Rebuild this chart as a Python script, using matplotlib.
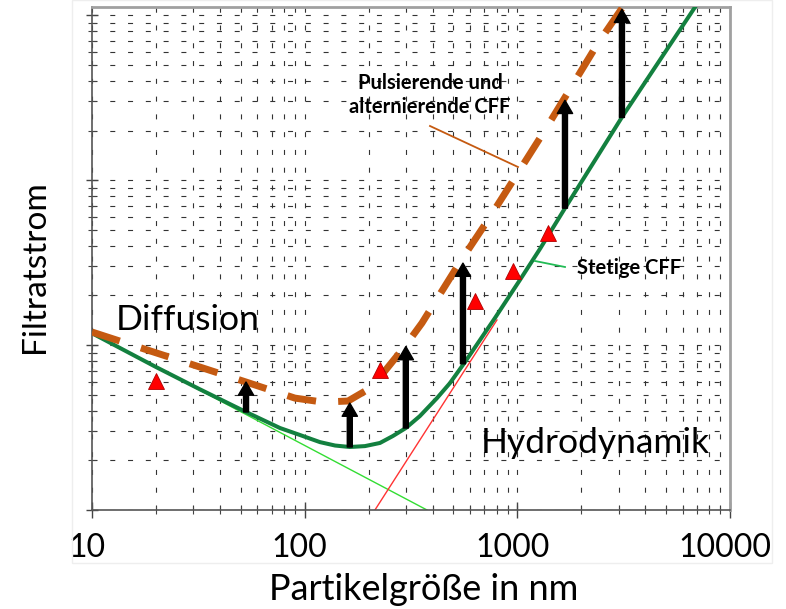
import matplotlib
matplotlib.use('Agg')
import matplotlib.pyplot as plt
import matplotlib.transforms as mtransforms
from matplotlib.ticker import FixedLocator, LogLocator, NullFormatter
from matplotlib.patches import Rectangle

plt.rcParams['font.family'] = ['Lato', 'DejaVu Sans']

# Stetige CFF (durchgezogene Kurve)
steady_x = [10, 20, 32, 53, 76.6, 95, 118, 139, 163, 192, 226, 260, 299, 348, 419, 482,
            567, 785, 1028, 1276, 1675, 3104, 6838]
steady_y = [11.8, 7.36, 5.41, 3.93, 3.14, 2.85, 2.58, 2.46, 2.41, 2.44, 2.55, 2.81, 3.14,
            3.71, 4.77, 5.88, 7.88, 14.6, 24.8, 38.2, 67.6, 241, 1117]

# Pulsierende und alternierende CFF (gestrichelt)
pulse_x = [10, 53, 90, 122, 160, 207, 299, 356, 537, 743, 1349, 2393, 3104]
pulse_y = [12.0, 5.97, 4.77, 4.51, 4.58, 5.56, 10.0, 13.6, 31.8, 59.7, 201, 676, 1102]

# Asymptoten
diff_x = [10, 376]
diff_y = [11.8, 1.0]
hydro_x = [214, 802]
hydro_y = [1.0, 14.2]

# Pfeile: x, von (stetig), bis (pulsierend)
arrow_x = [53, 163, 299, 555, 1675, 3104]
arrow_from = [3.93, 2.41, 3.14, 7.7, 67.6, 240]
arrow_to = [5.97, 4.45, 9.8, 31.4, 305, 1087]

# Messpunkte (Dreiecke)
tri_x = [20, 226, 632, 953, 1393]
tri_y = [6.05, 7.05, 18.5, 28.1, 47.7]

xticks = [10, 100, 1000, 10000]
xlabels = ['10', '100', '1000', '10000']

W, H = 786, 609
fig = plt.figure(figsize=(W / 100, H / 100), dpi=100)


def fx(px):
    return px / W


def fy(py):
    return 1 - py / H


# faint chart-area border
fig.patches.append(Rectangle((fx(72), fy(563)), fx(772) - fx(72), fy(0) - fy(563),
                             transform=fig.transFigure, fill=False,
                             edgecolor='#eeeeee', linewidth=1))

ax = fig.add_axes([fx(92), fy(510), fx(730) - fx(92), fy(7) - fy(510)])
ax.set_xscale('log')
ax.set_yscale('log')
ax.set_xlim(10, 10000)
ax.set_ylim(1, 10 ** 3.05)

ax.xaxis.set_major_locator(FixedLocator(xticks))
ax.set_xticklabels(xlabels, fontsize=23)
ax.xaxis.set_minor_locator(LogLocator(base=10, subs=range(2, 10)))
ax.xaxis.set_minor_formatter(NullFormatter())
ax.yaxis.set_major_locator(LogLocator(base=10))
ax.yaxis.set_minor_locator(LogLocator(base=10, subs=range(2, 10)))
ax.yaxis.set_major_formatter(NullFormatter())
ax.yaxis.set_minor_formatter(NullFormatter())

ax.tick_params(which='major', direction='inout', length=11, width=1, color='#444444', pad=11)
ax.tick_params(which='minor', direction='inout', length=6, width=0.8, color='#444444')
ax.tick_params(axis='y', which='major', length=9)

# labels sit a little left of their ticks in the original
shift = mtransforms.ScaledTranslation(-0.05, 0, fig.dpi_scale_trans)
for lab in ax.get_xticklabels():
    lab.set_transform(lab.get_transform() + shift)

for s in ['left', 'bottom']:
    ax.spines[s].set_color('#555555')
    ax.spines[s].set_linewidth(1.2)
for s in ['top', 'right']:
    ax.spines[s].set_color('#a0a0a0')
    ax.spines[s].set_linewidth(2)

ax.set_axisbelow(True)
ax.grid(True, which='both', color='#333333', linewidth=0.8, linestyle=(0, (4.5, 11.5)))

ax.plot(diff_x, diff_y, color='#33dd33', linewidth=1, zorder=2)
ax.plot(hydro_x, hydro_y, color='#ff3333', linewidth=1, zorder=2)
ax.plot(steady_x, steady_y, color='#13803f', linewidth=2.9, zorder=3,
        solid_joinstyle='round')
ax.plot(pulse_x, pulse_y, color='#c55a11', linewidth=5, dashes=(4.2, 3.2),
        dash_capstyle='butt', zorder=3)

for x, y0, y1 in zip(arrow_x, arrow_from, arrow_to):
    ax.annotate('', xy=(x, y1), xytext=(x, y0),
                arrowprops=dict(facecolor='black', edgecolor='black', width=3.6,
                                headwidth=11, headlength=9.5, shrink=0),
                zorder=4)

ax.plot(tri_x, tri_y, linestyle='none', marker='^', markersize=12,
        markerfacecolor='#ff0000', markeredgecolor='#b00000', markeredgewidth=0.6, zorder=5)

# Beschriftungen
fig.text(fx(116), fy(330), 'Diffusion', fontsize=25.5, ha='left', va='baseline')
fig.text(fx(481), fy(453), 'Hydrodynamik', fontsize=25.5, ha='left', va='baseline')
fig.text(fx(430), fy(95), 'Pulsierende und\nalternierende CFF', fontsize=14.5,
         fontweight='bold', ha='center', va='center', linespacing=1.25)
fig.text(fx(577), fy(268), 'Stetige CFF', fontsize=14.5, fontweight='bold',
         ha='left', va='center')

fig.add_artist(plt.Line2D([fx(430), fx(518)], [fy(126), fy(167)], color='#c55a11',
                          linewidth=1.3, transform=fig.transFigure))
fig.add_artist(plt.Line2D([fx(535), fx(565)], [fy(261), fy(267)], color='#22bb55',
                          linewidth=1.3, transform=fig.transFigure))

fig.text(fx(35), fy(267), 'Filtratstrom', fontsize=24, rotation=90, ha='center', va='center')
fig.text(fx(424), fy(589), 'Partikelgröße in nm', fontsize=26, ha='center', va='center')

fig.savefig('out.png', dpi=100)
